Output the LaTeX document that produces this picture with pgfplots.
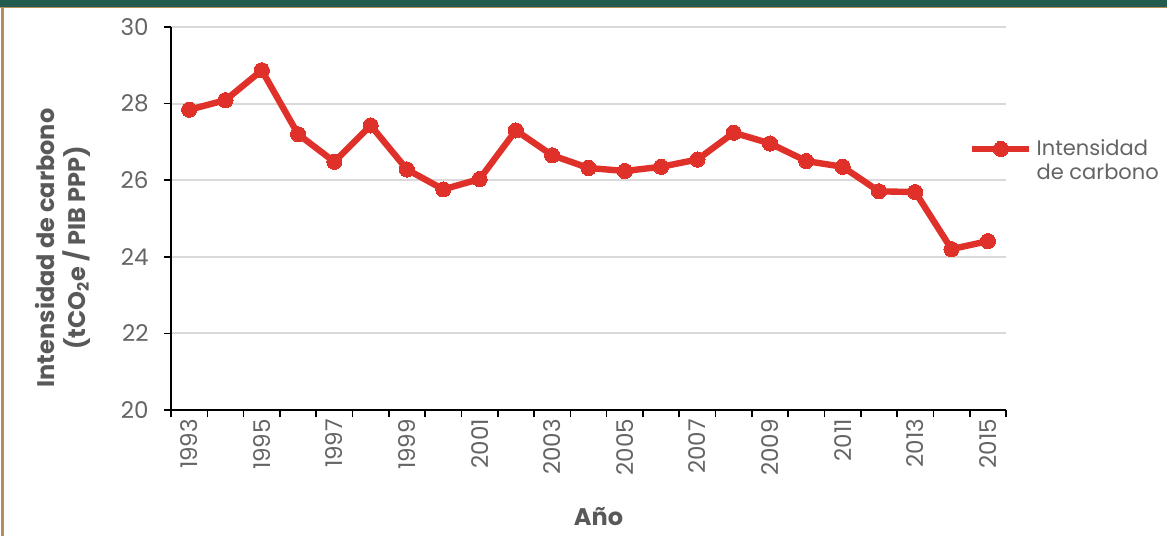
\documentclass[border=0pt]{standalone}
\usepackage{pgfplots}
\pgfplotsset{compat=1.18}
\usepackage{fontspec}
\setmainfont{Poppins}

\definecolor{bandgreen}{HTML}{235B4E}
\definecolor{gold}{HTML}{B38E5D}
\definecolor{seriesred}{HTML}{E0302A}
\definecolor{labelgray}{HTML}{595959}
\definecolor{tickgray}{HTML}{646464}
\definecolor{gridgray}{HTML}{D9D9D9}

% Carbon intensity, 1993--2015 (index 0 = 1993)
\pgfplotstableread{
idx value
0  27.84
1  28.09
2  28.87
3  27.20
4  26.48
5  27.43
6  26.28
7  25.76
8  26.03
9  27.30
10 26.65
11 26.32
12 26.24
13 26.35
14 26.54
15 27.24
16 26.96
17 26.50
18 26.35
19 25.71
20 25.69
21 24.20
22 24.41
}\carbondata

\begin{document}
\begin{tikzpicture}[x=1pt,y=1pt]
\useasboundingbox (0,0) rectangle (583.5,268);
% header band and frame
\fill[bandgreen] (0,264.5) rectangle (583.5,268);
\draw[gold, line width=0.7pt] (0,264.3) -- (583.5,264.3);
\draw[gold, line width=1.3pt] (1.3,0) -- (1.3,264.3);

\begin{axis}[
  at={(85.5pt,63pt)}, anchor=south west,
  scale only axis, width=417.5pt, height=191.5pt,
  xmin=-0.5, xmax=22.5, ymin=20, ymax=30,
  axis x line*=bottom, axis y line*=left,
  axis line style={-, black, line width=0.8pt},
  tick align=outside, major tick length=3.7pt,
  tick style={black, line width=0.8pt},
  ytick={20,22,...,30},
  ymajorgrids, grid style={gridgray, line width=1pt},
  yticklabel style={font=\fontsize{11.5}{13}\selectfont, text=tickgray, xshift=-4pt},
  /pgf/number format/assume math mode=true,
  xtick={-0.5,0.5,...,22.5}, xticklabels={},
  extra x ticks={0,2,...,22},
  extra x tick labels={1993,1995,1997,1999,2001,2003,2005,2007,2009,2011,2013,2015},
  extra x tick style={major tick length=0pt,
    tick label style={rotate=90, anchor=east, font=\fontsize{11.5}{13}\selectfont, text=tickgray, xshift=-1pt}},
  xlabel={\bfseries Año},
  xlabel style={at={(axis description cs:0.512,-0.277)}, anchor=center,
    font=\fontsize{12}{14}\selectfont, text=labelgray},
  ylabel={\bfseries\begin{tabular}{c}Intensidad de carbono\\(tCO\textsubscript{2}e / PIB PPP)\end{tabular}},
  ylabel style={at={(axis description cs:-0.128,0.423)}, anchor=center, rotate=0,
    font=\fontsize{12}{14}\selectfont, text=labelgray},
  legend style={draw=none, fill=none, inner sep=0pt, anchor=west,
    at={(axis description cs:0.9555,0.6815)},
    font=\fontsize{10.5}{12}\selectfont, text=tickgray},
  legend cell align=left,
  legend image code/.code={
    \draw[mark repeat=2, mark phase=2, #1] plot coordinates {(0pt,0pt) (14.25pt,0pt) (28.5pt,0pt)};
  },
]
\addplot[seriesred, line width=3.2pt, mark=*, mark size=3.8pt,
  mark options={fill=seriesred, draw=seriesred, line width=0pt}]
  table[x=idx, y=value] {\carbondata};
\addlegendentry{\begin{tabular}[t]{@{}l@{}}Intensidad\\de carbono\end{tabular}}
\end{axis}
\end{tikzpicture}
\end{document}
